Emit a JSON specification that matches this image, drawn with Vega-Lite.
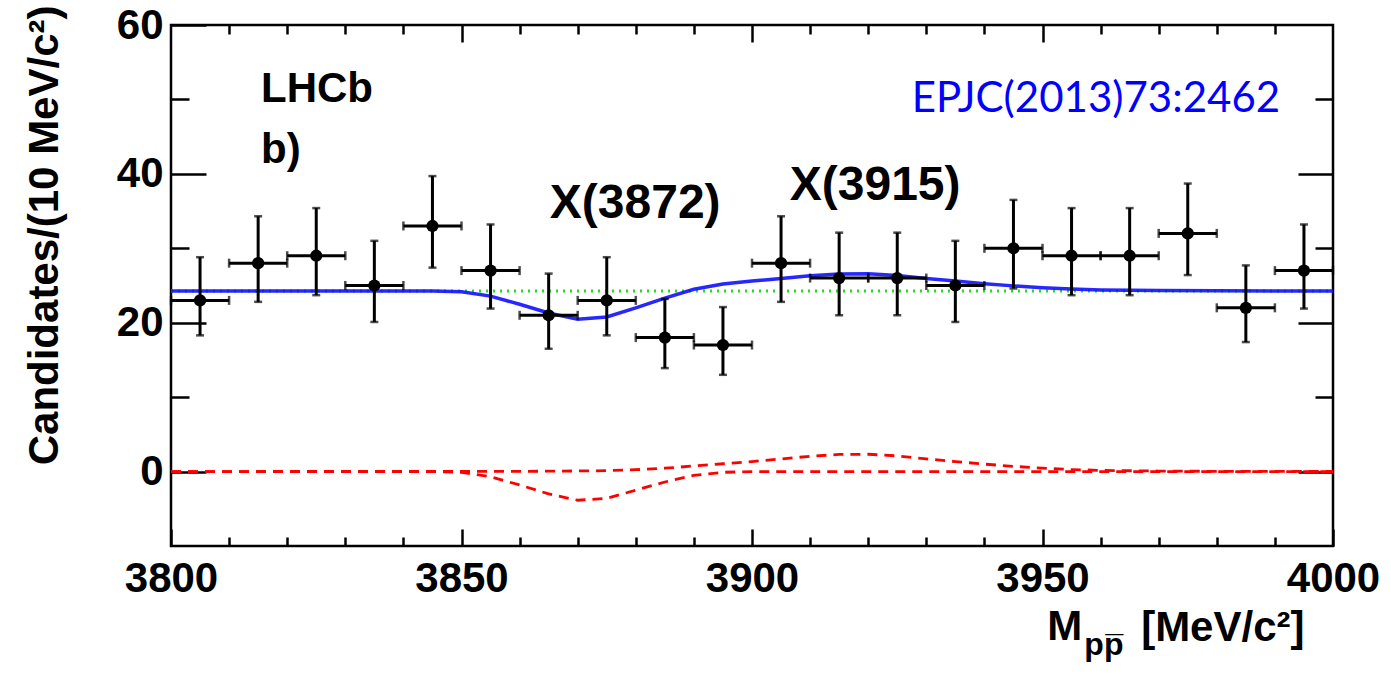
{
  "$schema": "https://vega.github.io/schema/vega-lite/v6.json",
  "width": 1162,
  "height": 521,
  "autosize": {"type": "none"},
  "padding": {"left": 171, "top": 25, "right": 58, "bottom": 131},
  "background": "white",
  "config": {
    "view": {"stroke": "black", "strokeWidth": 2.5},
    "axis": {
      "grid": false, "domain": false,
      "labelFont": "Liberation Sans", "labelFontWeight": "bold", "labelFontSize": 42, "labelColor": "black",
      "labelFlush": false, "labelOverlap": false, "format": "d",
      "tickColor": "black", "tickWidth": 2.5,
      "titleFont": "Liberation Sans", "titleFontWeight": "bold", "titleFontSize": 42, "titleColor": "black"
    }
  },
  "datasets": {
    "points": [
      {"m": 3805, "n": 23, "lo": 18.3, "hi": 28.8, "m0": 3800, "m1": 3810},
      {"m": 3815, "n": 28, "lo": 22.8, "hi": 34.3, "m0": 3810, "m1": 3820},
      {"m": 3825, "n": 29, "lo": 23.7, "hi": 35.4, "m0": 3820, "m1": 3830},
      {"m": 3835, "n": 25, "lo": 20.1, "hi": 31.0, "m0": 3830, "m1": 3840},
      {"m": 3845, "n": 33, "lo": 27.4, "hi": 39.7, "m0": 3840, "m1": 3850},
      {"m": 3855, "n": 27, "lo": 21.9, "hi": 33.2, "m0": 3850, "m1": 3860},
      {"m": 3865, "n": 21, "lo": 16.5, "hi": 26.6, "m0": 3860, "m1": 3870},
      {"m": 3875, "n": 23, "lo": 18.3, "hi": 28.8, "m0": 3870, "m1": 3880},
      {"m": 3885, "n": 18, "lo": 13.9, "hi": 23.2, "m0": 3880, "m1": 3890},
      {"m": 3895, "n": 17, "lo": 13.0, "hi": 22.1, "m0": 3890, "m1": 3900},
      {"m": 3905, "n": 28, "lo": 22.8, "hi": 34.3, "m0": 3900, "m1": 3910},
      {"m": 3915, "n": 26, "lo": 21.0, "hi": 32.1, "m0": 3910, "m1": 3920},
      {"m": 3925, "n": 26, "lo": 21.0, "hi": 32.1, "m0": 3920, "m1": 3930},
      {"m": 3935, "n": 25, "lo": 20.1, "hi": 31.0, "m0": 3930, "m1": 3940},
      {"m": 3945, "n": 30, "lo": 24.6, "hi": 36.5, "m0": 3940, "m1": 3950},
      {"m": 3955, "n": 29, "lo": 23.7, "hi": 35.4, "m0": 3950, "m1": 3960},
      {"m": 3965, "n": 29, "lo": 23.7, "hi": 35.4, "m0": 3960, "m1": 3970},
      {"m": 3975, "n": 32, "lo": 26.4, "hi": 38.7, "m0": 3970, "m1": 3980},
      {"m": 3985, "n": 22, "lo": 17.4, "hi": 27.7, "m0": 3980, "m1": 3990},
      {"m": 3995, "n": 27, "lo": 21.9, "hi": 33.2, "m0": 3990, "m1": 4000}
    ],
    "fit": [
      {"m": 3800, "v": 24.25}, {"m": 3810, "v": 24.25}, {"m": 3820, "v": 24.25}, {"m": 3830, "v": 24.25},
      {"m": 3840, "v": 24.25}, {"m": 3845, "v": 24.25}, {"m": 3850, "v": 24.17}, {"m": 3855, "v": 23.57},
      {"m": 3860, "v": 22.48}, {"m": 3865, "v": 21.3}, {"m": 3870, "v": 20.48}, {"m": 3875, "v": 20.77},
      {"m": 3880, "v": 22.0}, {"m": 3885, "v": 23.3}, {"m": 3890, "v": 24.5}, {"m": 3895, "v": 25.2},
      {"m": 3900, "v": 25.6}, {"m": 3905, "v": 25.95}, {"m": 3910, "v": 26.3}, {"m": 3915, "v": 26.55},
      {"m": 3920, "v": 26.58}, {"m": 3925, "v": 26.35}, {"m": 3930, "v": 25.95}, {"m": 3935, "v": 25.6},
      {"m": 3940, "v": 25.25}, {"m": 3945, "v": 24.95}, {"m": 3950, "v": 24.7}, {"m": 3955, "v": 24.52},
      {"m": 3960, "v": 24.41}, {"m": 3970, "v": 24.32}, {"m": 3980, "v": 24.29}, {"m": 3990, "v": 24.27},
      {"m": 4000, "v": 24.26}
    ],
    "bg": [{"m": 3800, "v": 24.25}, {"m": 4000, "v": 24.25}],
    "sig": [
      {"c": "X(3872)", "m": 3800, "v": 0}, {"c": "X(3872)", "m": 3845, "v": 0}, {"c": "X(3872)", "m": 3850, "v": -0.1},
      {"c": "X(3872)", "m": 3855, "v": -0.7}, {"c": "X(3872)", "m": 3860, "v": -1.8}, {"c": "X(3872)", "m": 3865, "v": -3.0},
      {"c": "X(3872)", "m": 3870, "v": -3.85}, {"c": "X(3872)", "m": 3875, "v": -3.6}, {"c": "X(3872)", "m": 3880, "v": -2.5},
      {"c": "X(3872)", "m": 3885, "v": -1.4}, {"c": "X(3872)", "m": 3890, "v": -0.5}, {"c": "X(3872)", "m": 3895, "v": -0.1},
      {"c": "X(3872)", "m": 3900, "v": 0}, {"c": "X(3872)", "m": 4000, "v": 0},
      {"c": "X(3915)", "m": 3800, "v": 0}, {"c": "X(3915)", "m": 3850, "v": 0.02}, {"c": "X(3915)", "m": 3860, "v": 0.03},
      {"c": "X(3915)", "m": 3865, "v": 0.05}, {"c": "X(3915)", "m": 3870, "v": 0.08}, {"c": "X(3915)", "m": 3875, "v": 0.12},
      {"c": "X(3915)", "m": 3880, "v": 0.25}, {"c": "X(3915)", "m": 3885, "v": 0.45}, {"c": "X(3915)", "m": 3890, "v": 0.75},
      {"c": "X(3915)", "m": 3895, "v": 1.05}, {"c": "X(3915)", "m": 3900, "v": 1.35}, {"c": "X(3915)", "m": 3905, "v": 1.7},
      {"c": "X(3915)", "m": 3910, "v": 2.05}, {"c": "X(3915)", "m": 3915, "v": 2.3}, {"c": "X(3915)", "m": 3920, "v": 2.33},
      {"c": "X(3915)", "m": 3925, "v": 2.1}, {"c": "X(3915)", "m": 3930, "v": 1.7}, {"c": "X(3915)", "m": 3935, "v": 1.35},
      {"c": "X(3915)", "m": 3940, "v": 1.0}, {"c": "X(3915)", "m": 3945, "v": 0.7}, {"c": "X(3915)", "m": 3950, "v": 0.45},
      {"c": "X(3915)", "m": 3955, "v": 0.27}, {"c": "X(3915)", "m": 3960, "v": 0.16}, {"c": "X(3915)", "m": 3970, "v": 0.07},
      {"c": "X(3915)", "m": 3980, "v": 0.03}, {"c": "X(3915)", "m": 4000, "v": 0.01}
    ],
    "labels": [
      {"m": 3815.5, "v": 49.7, "t": "LHCb", "k": "a"},
      {"m": 3815.5, "v": 41.5, "t": "b)", "k": "a"},
      {"m": 3865.2, "v": 34.1, "t": "X(3872)", "k": "b"},
      {"m": 3906.5, "v": 36.5, "t": "X(3915)", "k": "b"},
      {"m": 3927.5, "v": 48.3, "t": "EPJC(2013)73:2462", "k": "c"},
      {"m": 3950.8, "v": -22.6, "t": "M", "k": "a"},
      {"m": 3957.2, "v": -24.6, "t": "pp̅", "k": "d"}
    ]
  },
  "resolve": {"axis": {"x": "independent", "y": "independent"}},
  "layer": [
    {
      "data": {"name": "points"},
      "mark": {"type": "point", "opacity": 0},
      "encoding": {
        "x": {"field": "m", "type": "quantitative", "scale": {"domain": [3800, 4000], "nice": false, "zero": false},
              "axis": {"orient": "bottom", "values": [3810, 3820, 3830, 3840, 3860, 3870, 3880, 3890, 3910, 3920, 3930, 3940, 3960, 3970, 3980, 3990], "tickSize": -9, "labels": false, "title": null}},
        "y": {"field": "n", "type": "quantitative", "scale": {"domain": [-10, 60], "nice": false, "zero": false},
              "axis": {"orient": "left", "values": [10, 30, 50], "tickSize": -18, "labels": false, "title": null}}
      }
    },
    {
      "data": {"name": "points"},
      "mark": {"type": "point", "opacity": 0},
      "encoding": {
        "x": {"field": "m", "type": "quantitative", "scale": {"domain": [3800, 4000], "nice": false, "zero": false},
              "axis": {"orient": "top", "values": [3850, 3900, 3950], "tickSize": -17, "labels": false, "title": null}},
        "y": {"field": "n", "type": "quantitative", "scale": {"domain": [-10, 60], "nice": false, "zero": false},
              "axis": {"orient": "right", "values": [0, 20, 40], "tickSize": -35, "labels": false, "title": null}}
      }
    },
    {
      "data": {"name": "points"},
      "mark": {"type": "point", "opacity": 0},
      "encoding": {
        "x": {"field": "m", "type": "quantitative", "scale": {"domain": [3800, 4000], "nice": false, "zero": false},
              "axis": {"orient": "top", "values": [3810, 3820, 3830, 3840, 3860, 3870, 3880, 3890, 3910, 3920, 3930, 3940, 3960, 3970, 3980, 3990], "tickSize": -9, "labels": false, "title": null}},
        "y": {"field": "n", "type": "quantitative", "scale": {"domain": [-10, 60], "nice": false, "zero": false},
              "axis": {"orient": "right", "values": [10, 30, 50], "tickSize": -18, "labels": false, "title": null}}
      }
    },
    {
      "mark": {"type": "rule", "color": "black", "strokeWidth": 2.5},
      "encoding": {"y": {"datum": 0, "type": "quantitative", "scale": {"domain": [-10, 60], "nice": false, "zero": false}, "axis": null}}
    },
    {
      "data": {"name": "sig"},
      "mark": {"type": "line", "color": "#ff0000", "strokeWidth": 2.8, "strokeDash": [10, 7]},
      "encoding": {
        "x": {"field": "m", "type": "quantitative", "scale": {"domain": [3800, 4000], "nice": false, "zero": false}, "axis": null},
        "y": {"field": "v", "type": "quantitative", "scale": {"domain": [-10, 60], "nice": false, "zero": false}, "axis": null},
        "detail": {"field": "c", "type": "nominal"}
      }
    },
    {
      "data": {"name": "bg"},
      "mark": {"type": "line", "color": "#22dd22", "strokeWidth": 3, "strokeDash": [2, 5]},
      "encoding": {
        "x": {"field": "m", "type": "quantitative", "scale": {"domain": [3800, 4000], "nice": false, "zero": false}, "axis": null},
        "y": {"field": "v", "type": "quantitative", "scale": {"domain": [-10, 60], "nice": false, "zero": false}, "axis": null}
      }
    },
    {
      "data": {"name": "fit"},
      "mark": {"type": "line", "color": "#1010ff", "strokeWidth": 3.5, "opacity": 0.9},
      "encoding": {
        "x": {"field": "m", "type": "quantitative", "scale": {"domain": [3800, 4000], "nice": false, "zero": false}, "axis": null},
        "y": {"field": "v", "type": "quantitative", "scale": {"domain": [-10, 60], "nice": false, "zero": false}, "axis": null}
      }
    },
    {
      "data": {"name": "points"},
      "mark": {"type": "rule", "color": "black", "strokeWidth": 3},
      "encoding": {
        "x": {"field": "m0", "type": "quantitative", "scale": {"domain": [3800, 4000], "nice": false, "zero": false}, "axis": null},
        "x2": {"field": "m1"},
        "y": {"field": "n", "type": "quantitative", "scale": {"domain": [-10, 60], "nice": false, "zero": false}, "axis": null}
      }
    },
    {
      "data": {"name": "points"},
      "mark": {"type": "rule", "color": "black", "strokeWidth": 3},
      "encoding": {
        "x": {"field": "m", "type": "quantitative", "scale": {"domain": [3800, 4000], "nice": false, "zero": false}, "axis": null},
        "y": {"field": "lo", "type": "quantitative", "scale": {"domain": [-10, 60], "nice": false, "zero": false}, "axis": null},
        "y2": {"field": "hi"}
      }
    },
    {
      "data": {"name": "points"},
      "mark": {"type": "tick", "orient": "vertical", "color": "black", "size": 9, "thickness": 2.5},
      "encoding": {
        "x": {"field": "m0", "type": "quantitative", "scale": {"domain": [3800, 4000], "nice": false, "zero": false}, "axis": null},
        "y": {"field": "n", "type": "quantitative", "scale": {"domain": [-10, 60], "nice": false, "zero": false}, "axis": null}
      }
    },
    {
      "data": {"name": "points"},
      "mark": {"type": "tick", "orient": "vertical", "color": "black", "size": 9, "thickness": 2.5},
      "encoding": {
        "x": {"field": "m1", "type": "quantitative", "scale": {"domain": [3800, 4000], "nice": false, "zero": false}, "axis": null},
        "y": {"field": "n", "type": "quantitative", "scale": {"domain": [-10, 60], "nice": false, "zero": false}, "axis": null}
      }
    },
    {
      "data": {"name": "points"},
      "mark": {"type": "tick", "orient": "horizontal", "color": "black", "size": 8, "thickness": 2.5},
      "encoding": {
        "x": {"field": "m", "type": "quantitative", "scale": {"domain": [3800, 4000], "nice": false, "zero": false}, "axis": null},
        "y": {"field": "lo", "type": "quantitative", "scale": {"domain": [-10, 60], "nice": false, "zero": false}, "axis": null}
      }
    },
    {
      "data": {"name": "points"},
      "mark": {"type": "tick", "orient": "horizontal", "color": "black", "size": 8, "thickness": 2.5},
      "encoding": {
        "x": {"field": "m", "type": "quantitative", "scale": {"domain": [3800, 4000], "nice": false, "zero": false}, "axis": null},
        "y": {"field": "hi", "type": "quantitative", "scale": {"domain": [-10, 60], "nice": false, "zero": false}, "axis": null}
      }
    },
    {
      "data": {"name": "points"},
      "mark": {"type": "circle", "color": "black", "opacity": 1, "size": 150},
      "encoding": {
        "x": {"field": "m", "type": "quantitative", "scale": {"domain": [3800, 4000], "nice": false, "zero": false},
              "axis": {"orient": "bottom", "values": [3800, 3850, 3900, 3950, 4000], "tickSize": -17, "labelPadding": 29,
                       "title": "[MeV/c²]", "titleAnchor": "end", "titleAlign": "right", "titleX": 1133, "titleY": 94, "titleBaseline": "alphabetic"}},
        "y": {"field": "n", "type": "quantitative", "scale": {"domain": [-10, 60], "nice": false, "zero": false},
              "axis": {"orient": "left", "values": [0, 20, 40, 60], "tickSize": -35, "labelPadding": 43,
                       "title": "Candidates/(10 MeV/c²)", "titleAnchor": "end", "titleAlign": "right", "titleAngle": -90,
                       "titleX": -114, "titleY": -20, "titleBaseline": "alphabetic"}}
      }
    },
    {
      "data": {"name": "labels"},
      "transform": [{"filter": "datum.k == 'a'"}],
      "mark": {"type": "text", "font": "Liberation Sans", "fontWeight": "bold", "fontSize": 42, "align": "left", "baseline": "alphabetic", "color": "black"},
      "encoding": {
        "x": {"field": "m", "type": "quantitative", "scale": {"domain": [3800, 4000], "nice": false, "zero": false}, "axis": null},
        "y": {"field": "v", "type": "quantitative", "scale": {"domain": [-10, 60], "nice": false, "zero": false}, "axis": null},
        "text": {"field": "t"}
      }
    },
    {
      "data": {"name": "labels"},
      "transform": [{"filter": "datum.k == 'b'"}],
      "mark": {"type": "text", "font": "Liberation Sans", "fontWeight": "bold", "fontSize": 48, "align": "left", "baseline": "alphabetic", "color": "black"},
      "encoding": {
        "x": {"field": "m", "type": "quantitative", "scale": {"domain": [3800, 4000], "nice": false, "zero": false}, "axis": null},
        "y": {"field": "v", "type": "quantitative", "scale": {"domain": [-10, 60], "nice": false, "zero": false}, "axis": null},
        "text": {"field": "t"}
      }
    },
    {
      "data": {"name": "labels"},
      "transform": [{"filter": "datum.k == 'c'"}],
      "mark": {"type": "text", "font": "Lato", "fontSize": 42, "align": "left", "baseline": "alphabetic", "color": "#0000ff"},
      "encoding": {
        "x": {"field": "m", "type": "quantitative", "scale": {"domain": [3800, 4000], "nice": false, "zero": false}, "axis": null},
        "y": {"field": "v", "type": "quantitative", "scale": {"domain": [-10, 60], "nice": false, "zero": false}, "axis": null},
        "text": {"field": "t"}
      }
    },
    {
      "data": {"name": "labels"},
      "transform": [{"filter": "datum.k == 'd'"}],
      "mark": {"type": "text", "font": "Liberation Sans", "fontWeight": "bold", "fontSize": 32, "align": "left", "baseline": "alphabetic", "color": "black"},
      "encoding": {
        "x": {"field": "m", "type": "quantitative", "scale": {"domain": [3800, 4000], "nice": false, "zero": false}, "axis": null},
        "y": {"field": "v", "type": "quantitative", "scale": {"domain": [-10, 60], "nice": false, "zero": false}, "axis": null},
        "text": {"field": "t"}
      }
    }
  ]
}
